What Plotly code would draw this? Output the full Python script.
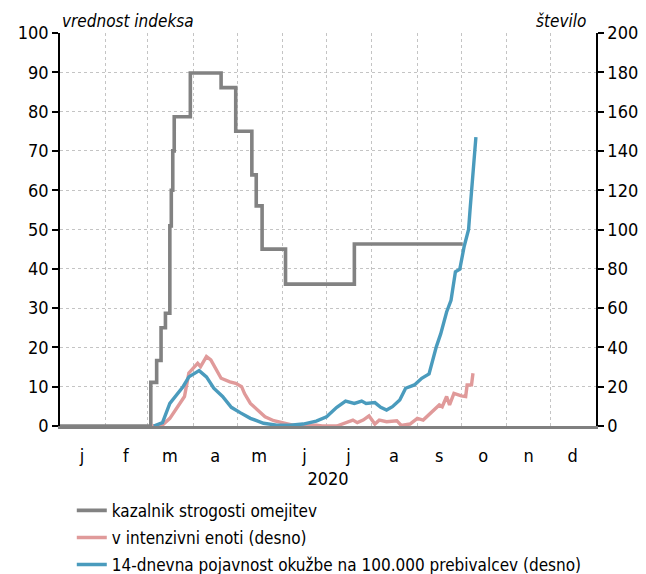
import plotly.graph_objects as go

# Stringency index (left axis) - change points, held until next change
stringency_dates = ["2020-01-01", "2020-03-03", "2020-03-07", "2020-03-10", "2020-03-13",
                    "2020-03-16", "2020-03-17", "2020-03-18", "2020-03-19", "2020-03-30",
                    "2020-04-20", "2020-04-30", "2020-05-11", "2020-05-14", "2020-05-18",
                    "2020-06-03", "2020-07-20", "2020-10-02"]
stringency_values = [0, 11.11, 16.67, 25.0, 28.7, 50.93, 60.0, 70.0, 78.7, 89.81,
                     86.11, 75.0, 63.89, 56.0, 45.0, 36.11, 46.3, 46.3]

# Patients in intensive care (right axis)
icu_dates = ["2020-03-04", "2020-03-11", "2020-03-16", "2020-03-20", "2020-03-26", "2020-03-29",
             "2020-04-02", "2020-04-04", "2020-04-06", "2020-04-10", "2020-04-13", "2020-04-17",
             "2020-04-20", "2020-04-26", "2020-04-30", "2020-05-04", "2020-05-06", "2020-05-10",
             "2020-05-14", "2020-05-20", "2020-05-26", "2020-06-01", "2020-06-08", "2020-06-24",
             "2020-06-28", "2020-07-08", "2020-07-14", "2020-07-19", "2020-07-22", "2020-07-26",
             "2020-07-30", "2020-08-03", "2020-08-06", "2020-08-11", "2020-08-18", "2020-08-21",
             "2020-08-27", "2020-09-01", "2020-09-05", "2020-09-10", "2020-09-16", "2020-09-18",
             "2020-09-21", "2020-09-23", "2020-09-26", "2020-10-01", "2020-10-04", "2020-10-05",
             "2020-10-08", "2020-10-09"]
icu_values = [0, 0.5, 3.9, 8.1, 15, 27, 30.2, 31.9, 30.2, 35.3, 33.6, 28.5,
              24.3, 22.5, 21.7, 20, 16.5, 11.5, 9, 4.7, 2.7, 1.7, 0.4, 0.4,
              0, 0, 1.7, 3, 1.7, 3, 5.1, 1, 3, 2.2, 2.7, 0.3,
              1, 3.9, 3, 6.4, 10.7, 9.8, 15, 10.7, 16.6, 15.3, 15, 20.9,
              21, 26.8]

# 14-day incidence per 100,000 inhabitants (right axis)
inc_dates = ["2020-03-05", "2020-03-11", "2020-03-16", "2020-03-20", "2020-03-25", "2020-03-29",
             "2020-04-05", "2020-04-10", "2020-04-15", "2020-04-21", "2020-04-27", "2020-05-03",
             "2020-05-10", "2020-05-19", "2020-05-28", "2020-06-06", "2020-06-15", "2020-06-24",
             "2020-07-01", "2020-07-08", "2020-07-14", "2020-07-20", "2020-07-25", "2020-07-28",
             "2020-08-03", "2020-08-07", "2020-08-11", "2020-08-15", "2020-08-20", "2020-08-24",
             "2020-08-30", "2020-09-04", "2020-09-09", "2020-09-14", "2020-09-17", "2020-09-21",
             "2020-09-24", "2020-09-27", "2020-09-30", "2020-10-03", "2020-10-06", "2020-10-07",
             "2020-10-09", "2020-10-11"]
inc_values = [0, 1.7, 11.5, 15, 20, 25, 28.2, 25, 19.2, 15, 9.5, 6.8,
              3.9, 1.4, 0.4, 0.4, 1, 2.5, 4.7, 9.5, 12.7, 11.5, 12.7, 11.5,
              11.9, 9.5, 8.1, 9.8, 13.2, 19.2, 20.9, 24.3, 26.5, 40.4, 47, 58,
              64, 78.5, 79.8, 91.5, 100, 110, 130, 147]

month_mid = ["2020-01-16", "2020-02-15", "2020-03-16", "2020-04-16", "2020-05-16", "2020-06-16",
             "2020-07-16", "2020-08-16", "2020-09-16", "2020-10-16", "2020-11-16", "2020-12-16"]
month_labels = ["j", "f", "m", "a", "m", "j", "j", "a", "s", "o", "n", "d"]

FONT = "Liberation Sans Narrow, DejaVu Sans Condensed, Liberation Sans, sans-serif"
GRAY = "#828282"
PINK = "#e09a9a"
BLUE = "#4a9bbd"
GRID = "#c4c4c4"

fig = go.Figure()
fig.add_trace(go.Scatter(x=stringency_dates, y=stringency_values, mode="lines",
                         line=dict(color=GRAY, width=3.6, shape="hv"), legendgroup="g1",
                         name="kazalnik strogosti omejitev", yaxis="y"))
fig.add_trace(go.Scatter(x=icu_dates, y=icu_values, mode="lines",
                         line=dict(color=PINK, width=3.4), legendgroup="g2",
                         name="v intenzivni enoti (desno)", yaxis="y2"))
fig.add_trace(go.Scatter(x=inc_dates, y=inc_values, mode="lines",
                         line=dict(color=BLUE, width=3.4), legendgroup="g3",
                         name="14-dnevna pojavnost okužbe na 100.000 prebivalcev (desno)", yaxis="y2"))

fig.update_layout(
    width=638, height=566,
    margin=dict(l=52, r=50, t=25, b=148, autoexpand=False),
    paper_bgcolor="white", plot_bgcolor="white",
    font=dict(family=FONT, size=18, color="black"),
    showlegend=True,
    legend=dict(x=0.022, xanchor="left", y=-0.17, yanchor="top",
                font=dict(size=17), bgcolor="rgba(0,0,0,0)",
                itemwidth=30, tracegroupgap=2, groupclick="toggleitem"),
    xaxis=dict(
        type="date", range=["2020-01-01", "2021-01-01"],
        tickmode="array", tickvals=month_mid, ticktext=month_labels,
        ticks="", showgrid=False, ticklabelstandoff=12,
        showline=True, linecolor="#808080", linewidth=2.5,
        tickfont=dict(size=18),
        title=dict(text="2020", font=dict(size=18), standoff=8),
        minor=dict(dtick="M1", tick0="2020-01-01", showgrid=True, gridcolor=GRID,
                   griddash="dot", gridwidth=1, ticks=""),
        zeroline=False,
    ),
    yaxis=dict(
        range=[0, 100], dtick=10, showgrid=True, gridcolor=GRID, griddash="dot", gridwidth=1,
        ticks="outside", ticklen=6, tickcolor="black", tickwidth=1.5,
        showline=True, linecolor="black", linewidth=1.5, zeroline=False,
        tickfont=dict(size=18),
    ),
    yaxis2=dict(
        range=[0, 200], dtick=20, overlaying="y", side="right", showgrid=False,
        ticks="outside", ticklen=6, tickcolor="black", tickwidth=1.5,
        showline=True, linecolor="black", linewidth=1.5, zeroline=False,
        tickfont=dict(size=18),
    ),
    annotations=[
        dict(text="<i>vrednost indeksa</i>", xref="paper", yref="paper", x=0.0, y=1.0,
             xanchor="left", yanchor="bottom", showarrow=False, font=dict(size=17)),
        dict(text="<i>število</i>", xref="paper", yref="paper", x=0.985, y=1.0,
             xanchor="right", yanchor="bottom", showarrow=False, font=dict(size=17)),
    ],
)

fig.write_html("out.html")
